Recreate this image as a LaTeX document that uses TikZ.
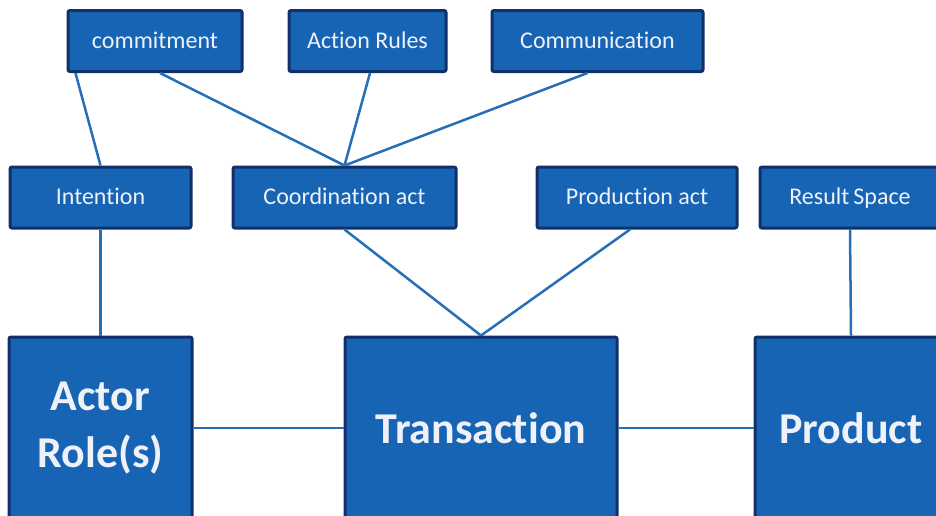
\documentclass[tikz,border=0pt]{standalone}
\usepackage{fontspec}
\setmainfont{Carlito}[Ligatures=NoCommon]
\usepackage{tikz}

\definecolor{boxblue}{RGB}{24,100,180}
\definecolor{boxedge}{RGB}{16,48,104}
\definecolor{linkblue}{RGB}{38,110,182}
\definecolor{labwhite}{RGB}{238,242,248}

\begin{document}
\begin{tikzpicture}[x=1pt,y=-1pt,
  small/.style={draw=boxedge,line width=3pt,fill=boxblue,rounded corners=2pt,
    text=labwhite,font=\fontsize{24}{28}\selectfont,minimum height=61pt,inner sep=0pt,
    text height=18pt,text depth=4pt},
  big/.style={draw=boxedge,line width=3pt,fill=boxblue,rounded corners=2pt,
    text=labwhite,font=\bfseries\fontsize{44}{57}\selectfont,minimum height=182pt,
    inner sep=0pt,align=center},
  link/.style={draw=linkblue,line width=2.5pt}]
 \useasboundingbox (0,0) rectangle (936,515);
 \clip (0,0) rectangle (936,515);
 % top row
 \node[small,minimum width=174pt] (cmt) at (155,41) {commitment};
 \node[small,minimum width=157pt] (rules) at (367.5,41) {Action Rules};
 \node[small,minimum width=211pt] (comm) at (597.5,41) {Communication};
 % middle row
 \node[small,minimum width=181pt] (intent) at (100.5,197.5) {Intention};
 \node[small,minimum width=223pt] (coord) at (344.5,197.5) {Coordination act};
 \node[small,minimum width=200pt] (prodact) at (637,197.5) {Production act};
 \node[small,minimum width=180pt] (space) at (850,197.5) {Result\,Space};
 % bottom row
 \node[big,minimum width=183pt] (actor) at (100.5,428) {Actor\\Role(s)};
 \node[big,minimum width=272pt] (trans) at (481,428) {Transaction};
 \node[big,minimum width=192pt] (product) at (851,428) {Product};

 % links
 \draw[link] ([xshift=9pt]cmt.south west)--(intent.north);
 \draw[link] ([xshift=5pt]cmt.south)--(coord.north);
 \draw[link] ([xshift=2.5pt]rules.south)--(coord.north);
 \draw[link] ([xshift=-10pt]comm.south)--(coord.north);
 \draw[link] (intent.south)--(actor.north);
 \draw[link] (coord.south)--(trans.north);
 \draw[link] ([xshift=-7pt]prodact.south)--(trans.north);
 \draw[link] (space.south)--(product.north);
 \draw[link] (actor.east)--(trans.west);
 \draw[link] (trans.east)--(product.west);
\end{tikzpicture}
\end{document}
